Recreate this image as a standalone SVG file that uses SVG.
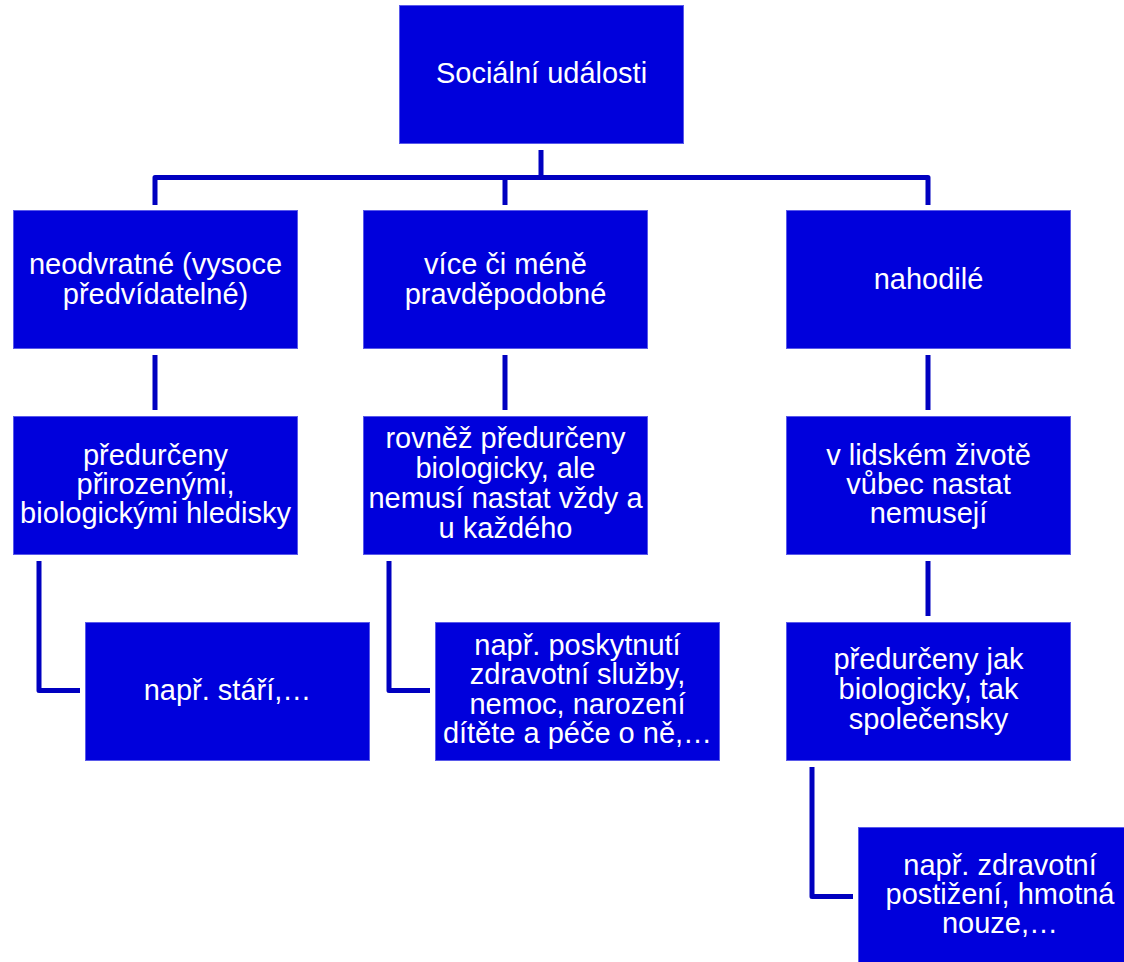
<svg xmlns="http://www.w3.org/2000/svg" width="1124" height="962" viewBox="0 0 1124 962">
<style>
.box{fill:#0000DC;stroke:#5A5AEA;stroke-width:1}
.t{font-family:"Liberation Sans",Arial,sans-serif;font-size:29px;fill:#FFFFFF;text-anchor:middle}
.c{fill:none;stroke:#0000C0;stroke-width:5;stroke-linejoin:round;stroke-linecap:butt}
</style>
<rect width="1124" height="962" fill="#FFFFFF"/>
<g id="connectors">
<path class="c" d="M541,150 V177.5"/>
<path class="c" d="M155,205 V177.5 H928 V205"/>
<path class="c" d="M505,177.5 V205"/>
<path class="c" d="M155,355 V410"/>
<path class="c" d="M505,355 V410"/>
<path class="c" d="M928,355 V410"/>
<path class="c" d="M928,561 V616"/>
<path class="c" d="M39,561 V690.5 H80"/>
<path class="c" d="M389,561 V690.5 H430"/>
<path class="c" d="M812,767 V896.5 H853"/>
</g>
<g id="n0"><rect class="box" x="399.5" y="5.5" width="284" height="138"/><text class="t" x="541.5" y="83">Sociální události</text></g>
<g id="n1"><rect class="box" x="13.5" y="210.5" width="284" height="138"/><text class="t" x="155.5" y="274">neodvratné (vysoce</text><text class="t" x="155.5" y="304">předvídatelné)</text></g>
<g id="n2"><rect class="box" x="363.5" y="210.5" width="284" height="138"/><text class="t" x="505.5" y="274">více či méně</text><text class="t" x="505.5" y="304">pravděpodobné</text></g>
<g id="n3"><rect class="box" x="786.5" y="210.5" width="284" height="138"/><text class="t" x="928.5" y="289">nahodilé</text></g>
<g id="n4"><rect class="box" x="13.5" y="416.5" width="284" height="138"/><text class="t" x="155.5" y="465">předurčeny</text><text class="t" x="155.5" y="494">přirozenými,</text><text class="t" x="155.5" y="523">biologickými hledisky</text></g>
<g id="n5"><rect class="box" x="363.5" y="416.5" width="284" height="138"/><text class="t" x="505.5" y="448">rovněž předurčeny</text><text class="t" x="505.5" y="478">biologicky, ale</text><text class="t" x="505.5" y="508">nemusí nastat vždy a</text><text class="t" x="505.5" y="538">u každého</text></g>
<g id="n6"><rect class="box" x="786.5" y="416.5" width="284" height="138"/><text class="t" x="928.5" y="465">v lidském životě</text><text class="t" x="928.5" y="494">vůbec nastat</text><text class="t" x="928.5" y="523">nemusejí</text></g>
<g id="n7"><rect class="box" x="85.5" y="622.5" width="284" height="138"/><text class="t" x="227.5" y="700">např. stáří,…</text></g>
<g id="n8"><rect class="box" x="435.5" y="622.5" width="284" height="138"/><text class="t" x="577.5" y="655">např. poskytnutí</text><text class="t" x="577.5" y="684">zdravotní služby,</text><text class="t" x="577.5" y="714">nemoc, narození</text><text class="t" x="577.5" y="743">dítěte a péče o ně,…</text></g>
<g id="n9"><rect class="box" x="786.5" y="622.5" width="284" height="138"/><text class="t" x="928.5" y="669">předurčeny jak</text><text class="t" x="928.5" y="699">biologicky, tak</text><text class="t" x="928.5" y="729">společensky</text></g>
<g id="n10"><rect class="box" x="858.5" y="827.5" width="284" height="138"/><text class="t" x="1000" y="875">např. zdravotní</text><text class="t" x="1000" y="904">postižení, hmotná</text><text class="t" x="1000" y="933">nouze,…</text></g>
</svg>
